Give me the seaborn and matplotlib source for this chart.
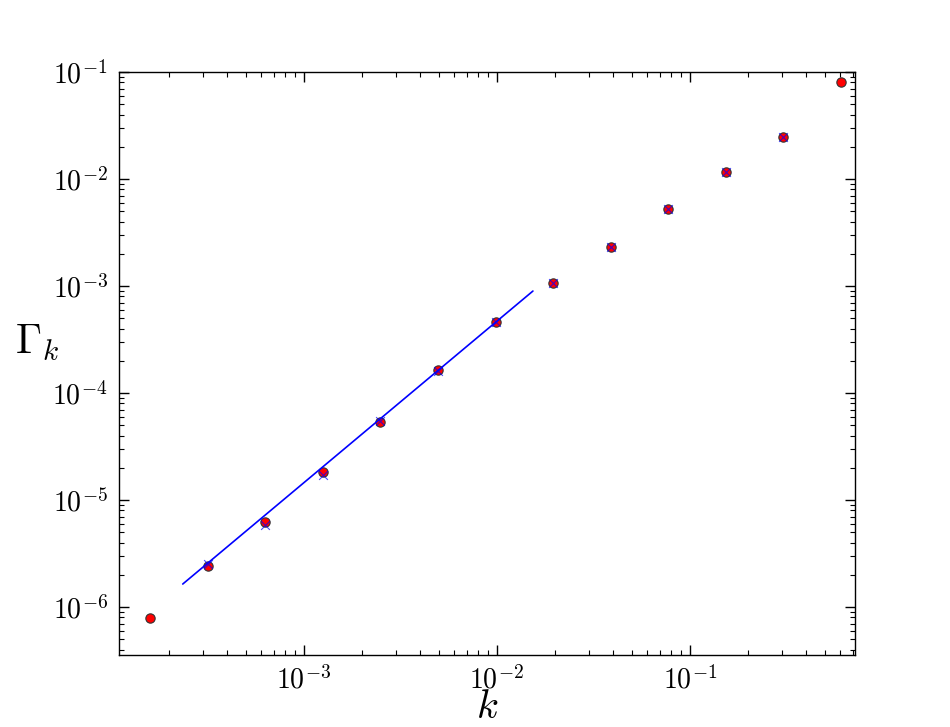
import numpy as np
import pandas as pd
import seaborn as sns
import matplotlib
matplotlib.use("Agg")
import matplotlib.pyplot as plt
from matplotlib.ticker import FuncFormatter

# data
k_vals = [1.59e-4, 3.18e-4, 6.28e-4, 1.25e-3, 2.48e-3, 4.94e-3, 9.89e-3,
          1.95e-2, 3.90e-2, 7.69e-2, 1.54e-1, 3.03e-1, 6.05e-1]
gamma_circ = [7.9e-7, 2.42e-6, 6.2e-6, 1.83e-5, 5.36e-5, 1.64e-4, 4.61e-4,
              1.07e-3, 2.31e-3, 5.25e-3, 1.16e-2, 2.47e-2, 8.07e-2]
k_cross = [3.18e-4, 6.28e-4, 1.25e-3, 2.48e-3, 4.94e-3, 9.89e-3,
           1.95e-2, 3.90e-2, 7.69e-2, 1.54e-1, 3.03e-1]
gamma_cross = [2.5e-6, 5.9e-6, 1.7e-5, 5.5e-5, 1.62e-4, 4.6e-4,
               1.07e-3, 2.31e-3, 5.2e-3, 1.15e-2, 2.47e-2]
k_fit = [2.36e-4, 1.537e-2]
gamma_fit = [1.64e-6, 8.97e-4]

sns.set_style("ticks")
plt.rcParams["mathtext.fontset"] = "cm"
plt.rcParams["font.family"] = ["DejaVu Serif"]
plt.rcParams["xtick.direction"] = "in"
plt.rcParams["ytick.direction"] = "in"
plt.rcParams["xtick.top"] = True
plt.rcParams["ytick.right"] = True
for key in ["text.color", "axes.labelcolor", "xtick.color", "ytick.color",
            "axes.edgecolor"]:
    plt.rcParams[key] = "black"

circ = pd.DataFrame({"k": k_vals, "g": gamma_circ})
cross = pd.DataFrame({"k": k_cross, "g": gamma_cross})
fit = pd.DataFrame({"k": k_fit, "g": gamma_fit})

fig = plt.figure(figsize=(9.5, 7.27), dpi=100)
ax = fig.add_axes([0.125, 0.099, 0.775, 0.802])

sns.scatterplot(data=circ, x="k", y="g", ax=ax, marker="o", s=45,
                color="red", edgecolor="#333333", linewidth=0.8, zorder=3)
sns.scatterplot(data=cross, x="k", y="g", ax=ax, marker="x", s=40,
                color="blue", linewidth=0.8, alpha=0.7, zorder=4)
sns.lineplot(data=fit, x="k", y="g", ax=ax, color="blue", linewidth=1.2,
             zorder=5)

ax.set_xscale("log")
ax.set_yscale("log")
ax.set_xlim(1.1e-4, 0.716)
ax.set_ylim(3.56e-7, 1e-1)

pow_fmt = FuncFormatter(lambda v, pos: r"$10^{%d}$" % round(np.log10(v)))
ax.xaxis.set_major_formatter(pow_fmt)
ax.yaxis.set_major_formatter(pow_fmt)

for s in ax.spines.values():
    s.set_linewidth(1.0)
ax.tick_params(which="major", length=7, width=1, labelsize=20, pad=8)
ax.tick_params(which="minor", length=3.5, width=0.8)

ax.set_xlabel(r"$k$", fontsize=29)
ax.xaxis.set_label_coords(0.5, -0.058)
ax.set_ylabel(r"$\Gamma_k$", fontsize=30, rotation=0)
ax.yaxis.set_label_coords(-0.11, 0.5)

fig.savefig("out.png", dpi=100)
